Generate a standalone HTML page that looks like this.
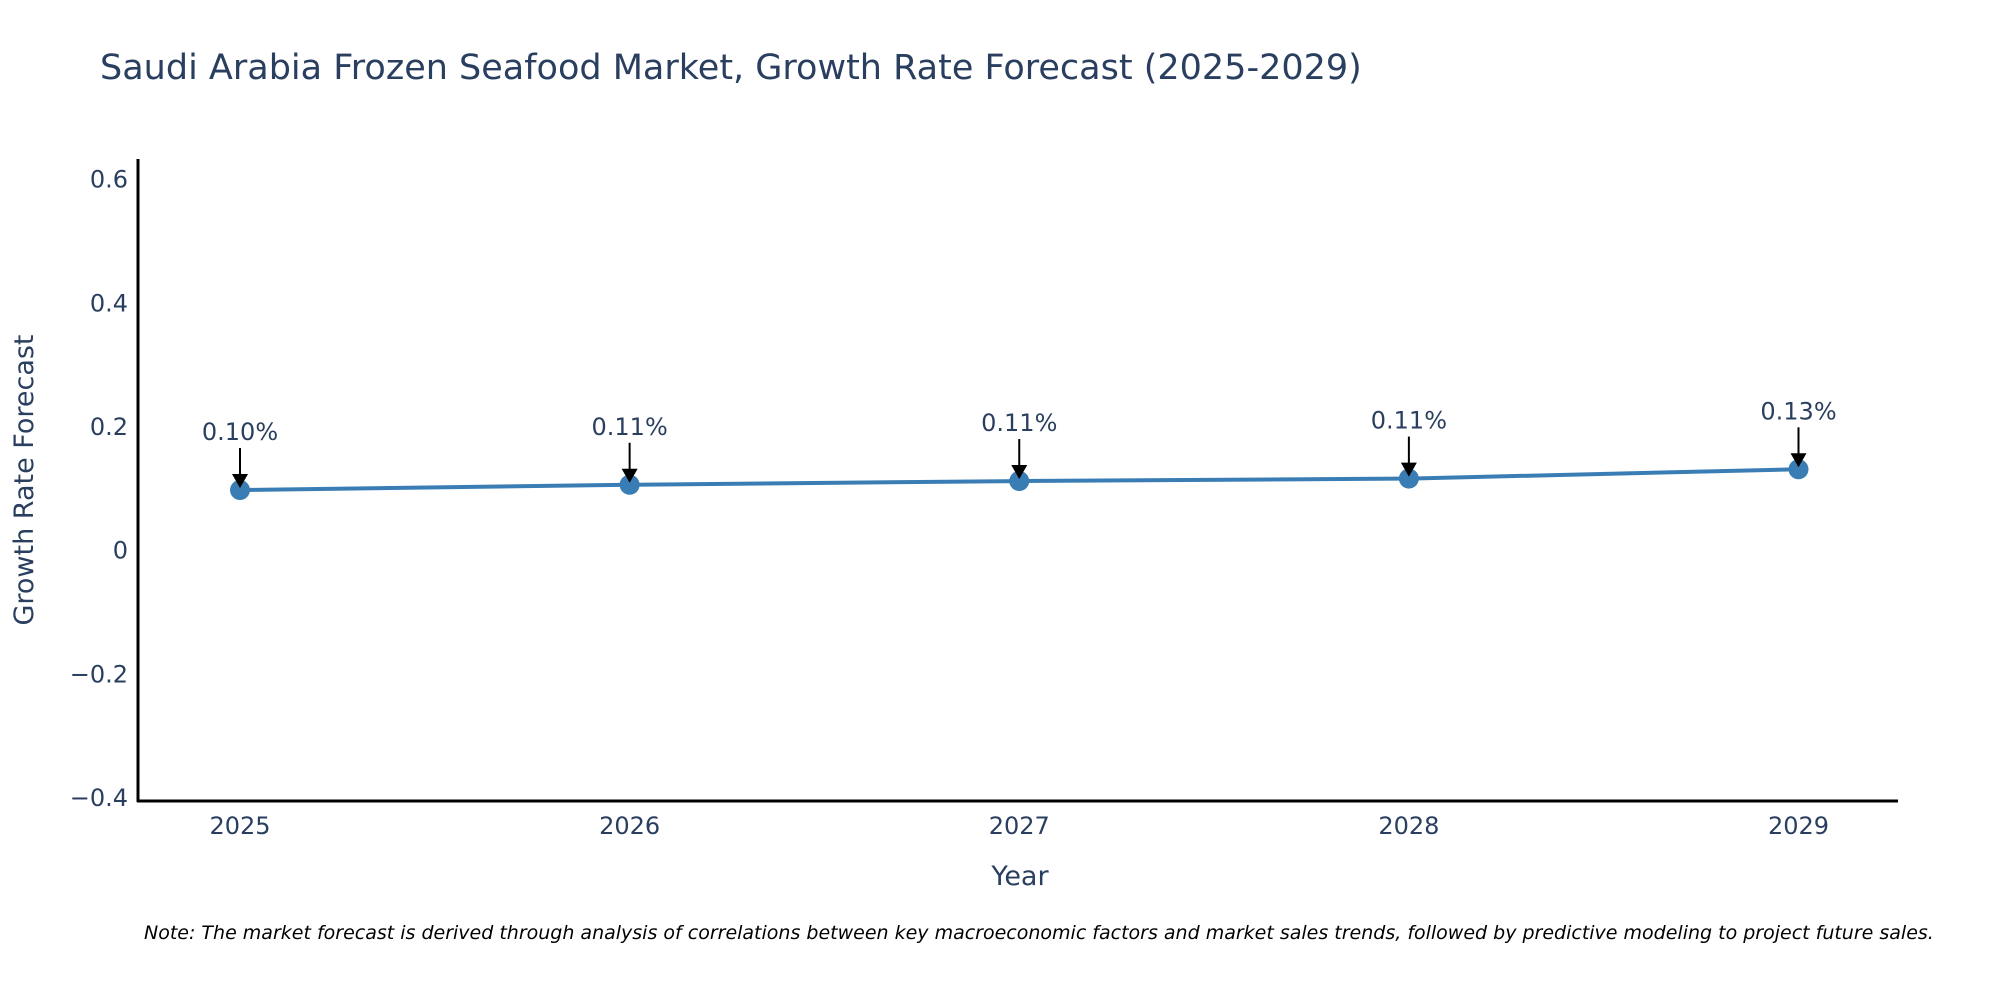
<!DOCTYPE html>
<html><head><meta charset="utf-8"><style>
body{margin:0;background:#fff;}
svg{display:block;font-family:"DejaVu Sans","Liberation Sans",sans-serif;}
</style></head><body>
<svg id="chart" width="2000" height="1000" viewBox="0 0 2000 1000">
<text x="100" y="79" font-size="35" fill="#2a3f5f">Saudi Arabia Frozen Seafood Market, Growth Rate Forecast (2025-2029)</text>
<g id="yticks"></g><g id="xticks"></g>
<line x1="138" y1="159" x2="138" y2="802" stroke="#000" stroke-width="3"/>
<line x1="137" y1="801" x2="1898" y2="801" stroke="#000" stroke-width="3"/>
<g id="series"></g>
<text x="1020" y="885" font-size="27" fill="#2a3f5f" text-anchor="middle">Year</text>
<text transform="translate(33,480) rotate(-90)" font-size="27" fill="#2a3f5f" text-anchor="middle">Growth Rate Forecast</text>
<text x="144" y="939" font-size="19" font-style="italic" fill="#000">Note: The market forecast is derived through analysis of correlations between key macroeconomic factors and market sales trends, followed by predictive modeling to project future sales.</text>
</svg>
<script>
const years=["2025","2026","2027","2028","2029"];
const growth=[0.0965,0.105,0.111,0.115,0.130];
const labels=["0.10%","0.11%","0.11%","0.11%","0.13%"];
const yTicks=[0.6,0.4,0.2,0,-0.2,-0.4];
const NS="http://www.w3.org/2000/svg";
const y=v=>549.7-v*618.5;
const x=i=>240+i*(1798.5-240)/(years.length-1);
function mk(t,a,p){const e=document.createElementNS(NS,t);for(const k in a)e.setAttribute(k,a[k]);p.appendChild(e);return e;}
const yt=document.getElementById('yticks');
yTicks.forEach(v=>{const t=mk('text',{x:128,y:y(v)+9,'font-size':24,fill:'#2a3f5f','text-anchor':'end'},yt);


t.textContent=v<0?'\u2212'+Math.abs(v):String(v);});
const xt=document.getElementById('xticks');
years.forEach((yr,i)=>{const t=mk('text',{x:x(i),y:834,'font-size':24,fill:'#2a3f5f','text-anchor':'middle'},xt);


t.textContent=yr;});
const s=document.getElementById('series');
const line=mk('polyline',{points:growth.map((v,i)=>x(i)+','+y(v)).join(' '),fill:'none',stroke:'#3a7db5','stroke-width':4},s);


growth.forEach((v,i)=>{const px=x(i),py=y(v);
const c=mk('circle',{cx:px,cy:py,r:10,fill:'#3a7db5'},s);


const a=mk('line',{x1:px,y1:py-42,x2:px,y2:py-14,stroke:'#000','stroke-width':2},s);


const h=mk('polygon',{points:`${px-8},${py-16} ${px+8},${py-16} ${px},${py-2}`,fill:'#000'},s);


const t=mk('text',{x:px,y:py-50,'font-size':24,fill:'#2a3f5f','text-anchor':'middle'},s);


t.textContent=labels[i];});
</script>
</body></html>
